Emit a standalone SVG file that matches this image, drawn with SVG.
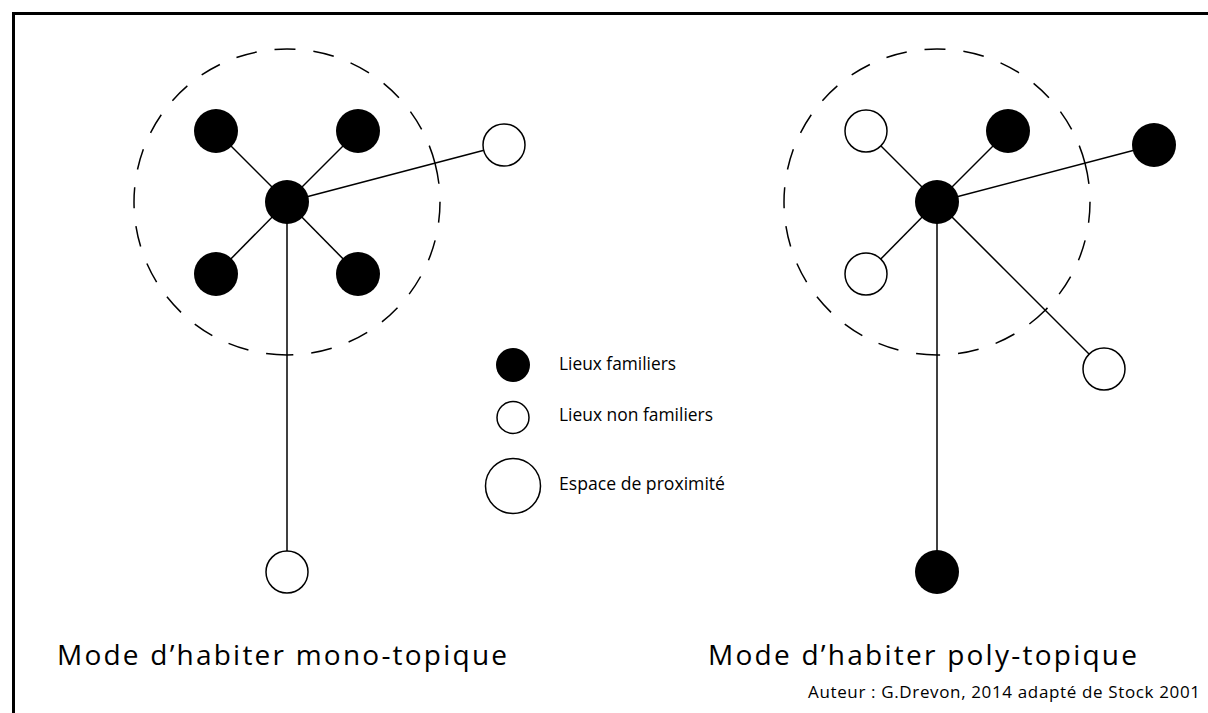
<svg xmlns="http://www.w3.org/2000/svg" width="1208" height="713" viewBox="0 0 1208 713">
<style>
.frame{fill:none;stroke:#000;stroke-width:3}
.link{stroke:#000;stroke-width:1.5;fill:none}
.zone{fill:none;stroke:#000;stroke-width:1.5;stroke-dasharray:21 18}
.fam{fill:#000}
.nonfam{fill:#fff;stroke:#000;stroke-width:1.5}
.title{font-family:"Open Sans","Noto Sans",sans-serif;font-size:28px;fill:#000}
.leg{font-family:"Open Sans","Noto Sans",sans-serif;font-size:17.5px;fill:#000}
.author{font-family:"Open Sans","Noto Sans",sans-serif;font-size:17px;fill:#000}
</style>
<rect x="0" y="0" width="1208" height="713" fill="#fff"/>
<path class="frame" d="M13.5,713 V13.5 H1208"/>

<g id="connectors">
  <line class="link" x1="287" y1="202" x2="216" y2="131"/>
  <line class="link" x1="287" y1="202" x2="358" y2="131"/>
  <line class="link" x1="287" y1="202" x2="216" y2="274"/>
  <line class="link" x1="287" y1="202" x2="358" y2="274"/>
  <line class="link" x1="287" y1="202" x2="504" y2="145"/>
  <line class="link" x1="287" y1="202" x2="287" y2="572"/>
  <line class="link" x1="937" y1="202" x2="866" y2="131"/>
  <line class="link" x1="937" y1="202" x2="1008" y2="131"/>
  <line class="link" x1="937" y1="202" x2="866" y2="274"/>
  <line class="link" x1="937" y1="202" x2="1154" y2="145"/>
  <line class="link" x1="937" y1="202" x2="1104" y2="369"/>
  <line class="link" x1="937" y1="202" x2="937" y2="572"/>
</g>

<g id="zone-mono">
  <path class="zone" d="M435,163.2 A153,153 0 0 1 287,355"/>
  <path class="zone" d="M287,355 A153,153 0 1 1 435,163.2"/>
</g>
<g id="zone-poly">
  <path class="zone" d="M1085,163.2 A153,153 0 0 1 1045.2,310.2"/>
  <path class="zone" d="M1045.2,310.2 A153,153 0 0 1 937,355"/>
  <path class="zone" d="M937,355 A153,153 0 1 1 1085,163.2"/>
</g>

<g id="mono-center"><circle class="fam" cx="287" cy="202" r="22"/></g>
<g id="mono-tl"><circle class="fam" cx="216" cy="131" r="22"/></g>
<g id="mono-tr"><circle class="fam" cx="358" cy="131" r="22"/></g>
<g id="mono-bl"><circle class="fam" cx="216" cy="274" r="22"/></g>
<g id="mono-br"><circle class="fam" cx="358" cy="274" r="22"/></g>
<g id="mono-right"><circle class="nonfam" cx="504" cy="145" r="21"/></g>
<g id="mono-bottom"><circle class="nonfam" cx="287" cy="572" r="21"/></g>

<g id="poly-center"><circle class="fam" cx="937" cy="202" r="22"/></g>
<g id="poly-tl"><circle class="nonfam" cx="866" cy="131" r="21"/></g>
<g id="poly-tr"><circle class="fam" cx="1008" cy="131" r="22"/></g>
<g id="poly-bl"><circle class="nonfam" cx="866" cy="274" r="21"/></g>
<g id="poly-right"><circle class="fam" cx="1154" cy="145" r="22"/></g>
<g id="poly-br"><circle class="nonfam" cx="1104" cy="369" r="21"/></g>
<g id="poly-bottom"><circle class="fam" cx="937" cy="572" r="22"/></g>

<g id="legend">
  <circle class="fam" cx="513" cy="365" r="17"/>
  <text class="leg" x="559" y="370" textLength="117" lengthAdjust="spacingAndGlyphs">Lieux familiers</text>
  <circle class="nonfam" cx="513" cy="417.5" r="16"/>
  <text class="leg" x="559" y="421" textLength="154" lengthAdjust="spacingAndGlyphs">Lieux non familiers</text>
  <circle class="nonfam" cx="513" cy="486" r="27.5"/>
  <text class="leg" x="559" y="490" textLength="166" lengthAdjust="spacingAndGlyphs">Espace de proximité</text>
</g>

<g id="titles">
  <text class="title" x="57" y="665" textLength="450" lengthAdjust="spacing">Mode d’habiter mono-topique</text>
  <text class="title" x="708" y="665" textLength="429" lengthAdjust="spacing">Mode d’habiter poly-topique</text>
  <text class="author" x="808" y="698" textLength="392" lengthAdjust="spacing">Auteur : G.Drevon, 2014 adapté de Stock 2001</text>
</g>
</svg>
